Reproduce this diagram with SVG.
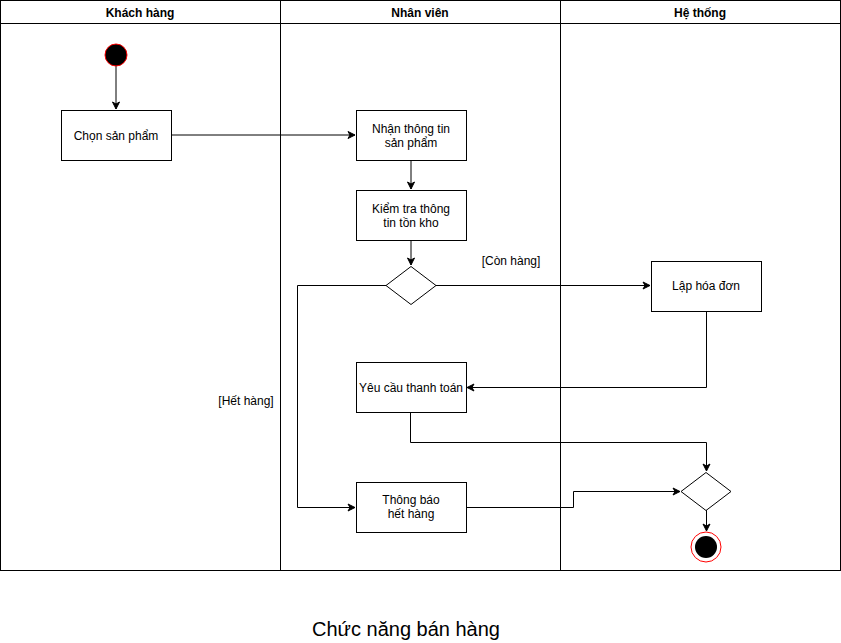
<svg xmlns="http://www.w3.org/2000/svg" width="841" height="643" viewBox="0 0 841 643">
<defs>
<style>
.lane{fill:none;stroke:#000;stroke-width:1}
.hdr{font-family:"Liberation Sans",Arial,sans-serif;font-size:12px;font-weight:bold;text-anchor:middle;fill:#000}
.box{fill:#fff;stroke:#000;stroke-width:1}
.t{font-family:"Liberation Sans",Arial,sans-serif;font-size:12px;text-anchor:middle;fill:#000}
.e{fill:none;stroke:#000;stroke-width:1}
</style>
<marker id="arr" markerWidth="10" markerHeight="10" refX="8" refY="5" orient="auto" markerUnits="userSpaceOnUse">
<path d="M1,1.5 L8,5 L1,8.5 L3,5 Z" fill="#000" stroke="#000" stroke-width="1"/>
</marker>
</defs>
<rect width="841" height="643" fill="#fff"/>
<g id="pool">
<rect class="lane" x="0.5" y="0.5" width="840" height="570"/>
<line class="lane" x1="0.5" y1="23.5" x2="840.5" y2="23.5"/>
<line class="lane" x1="280.5" y1="0.5" x2="280.5" y2="570.5"/>
<line class="lane" x1="560.5" y1="0.5" x2="560.5" y2="570.5"/>
<text class="hdr" x="140" y="17">Khách hàng</text>
<text class="hdr" x="420" y="17">Nhân viên</text>
<text class="hdr" x="700" y="17">Hệ thống</text>
</g>
<g id="edges">
<path class="e" d="M116,66 L116,109" marker-end="url(#arr)"/>
<path class="e" d="M171,135 L355,135" marker-end="url(#arr)"/>
<path class="e" d="M411,160 L411,189" marker-end="url(#arr)"/>
<path class="e" d="M411,240 L411,265" marker-end="url(#arr)"/>
<path class="e" d="M436,285.5 L650,285.5" marker-end="url(#arr)"/>
<path class="e" d="M386,285.5 L297.5,285.5 L297.5,507.5 L355,507.5" marker-end="url(#arr)"/>
<path class="e" d="M706.5,311 L706.5,387.5 L467,387.5" marker-end="url(#arr)"/>
<path class="e" d="M410.5,412 L410.5,442.5 L706.5,442.5 L706.5,471" marker-end="url(#arr)"/>
<path class="e" d="M466,507.5 L573.5,507.5 L573.5,491.5 L680,491.5" marker-end="url(#arr)"/>
<path class="e" d="M706.5,510 L706.5,531" marker-end="url(#arr)"/>
<text class="t" x="511" y="265">[Còn hàng]</text>
<text class="t" x="246" y="405">[Hết hàng]</text>
</g>
<g id="start"><circle cx="116" cy="55" r="11" fill="#000" stroke="#f00" stroke-width="1"/></g>
<g id="chon"><rect class="box" x="61.5" y="110.5" width="110" height="50"/><text class="t" x="116" y="140">Chọn sản phẩm</text></g>
<g id="nhan"><rect class="box" x="356.5" y="110.5" width="110" height="50"/><text class="t" x="411" y="133">Nhận thông tin</text><text class="t" x="411" y="147">sản phẩm</text></g>
<g id="kiemtra"><rect class="box" x="356.5" y="190.5" width="110" height="50"/><text class="t" x="411" y="213">Kiểm tra thông</text><text class="t" x="411" y="227">tin tồn kho</text></g>
<g id="decision"><polygon class="box" points="411,266.5 436,285.5 411,304.5 386,285.5"/></g>
<g id="laphoadon"><rect class="box" x="651.5" y="261.5" width="110" height="50"/><text class="t" x="706" y="290">Lập hóa đơn</text></g>
<g id="yeucau"><rect class="box" x="356.5" y="362.5" width="110" height="50"/><text class="t" x="411" y="392">Yêu cầu thanh toán</text></g>
<g id="thongbao"><rect class="box" x="356.5" y="482.5" width="110" height="50"/><text class="t" x="411" y="504">Thông báo</text><text class="t" x="411" y="518">hết hàng</text></g>
<g id="merge"><polygon class="box" points="706,472.5 731,491.5 706,510.5 681,491.5"/></g>
<g id="end"><circle cx="706" cy="547" r="15" fill="#fff" stroke="#f00" stroke-width="1"/><circle cx="706" cy="547" r="11" fill="#000"/></g>
<text x="406" y="636" font-family="Liberation Sans,Arial,sans-serif" font-size="20" text-anchor="middle" fill="#000">Chức năng bán hàng</text>
</svg>
